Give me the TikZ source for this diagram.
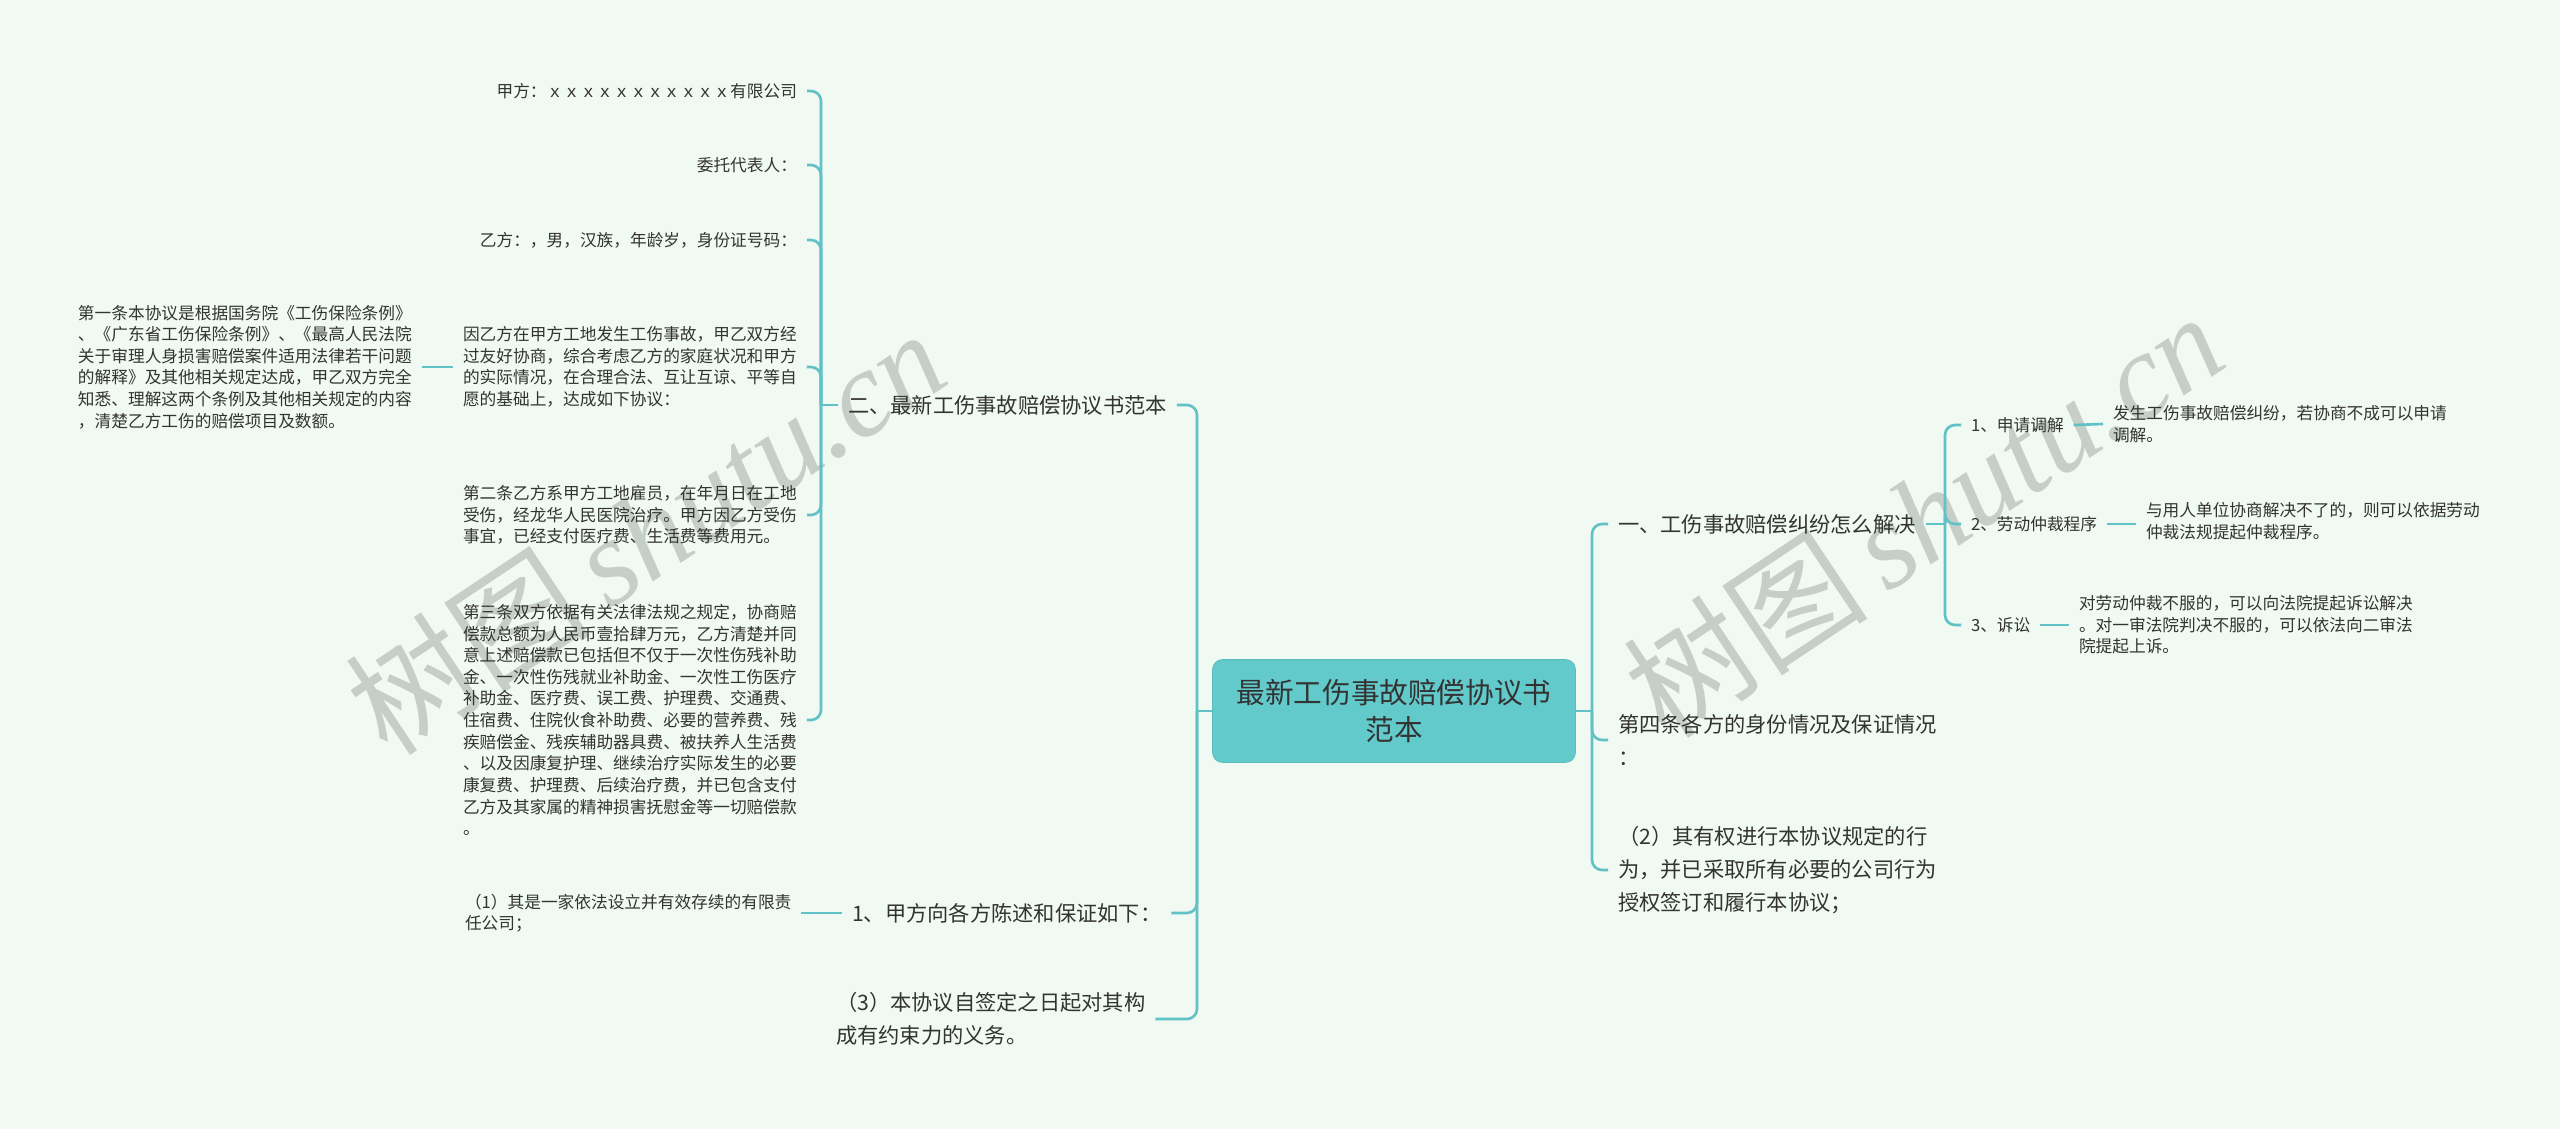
\documentclass[tikz,border=0pt]{standalone}
\usepackage{fontspec}
\setmainfont{Noto Sans CJK SC}
\newfontfamily\wmlatin{Liberation Serif}
\usetikzlibrary{positioning,calc}
\definecolor{bgc}{RGB}{240,249,242}
\definecolor{linec}{RGB}{96,193,199}
\definecolor{rootc}{RGB}{99,202,204}
\definecolor{textc}{RGB}{51,51,51}
\definecolor{wmc}{RGB}{198,206,200}

\begin{document}
\begin{tikzpicture}[x=0.02cm, y=-0.02cm,
    small/.style={font=\fontsize{9.5}{12.3}\selectfont, text=textc, inner sep=0pt, outer xsep=0.2cm, align=left},
    major/.style={font=\fontsize{12.1}{19}\selectfont, text=textc, inner sep=0pt, outer xsep=0.2cm, align=left},
    root/.style={rectangle, rounded corners=0.2cm, fill=rootc, draw=rootc!92!black, minimum width=7.26cm, minimum height=2.06cm, align=center, font=\fontsize{16.3}{21.3}\selectfont, text=textc},
    link/.style={draw=linec, line width=1.5pt, rounded corners=0.2cm},
    wmark/.style={text=wmc, rotate=33.7, inner sep=0pt, font=\fontsize{70}{70}\selectfont}]
    \useasboundingbox (0,0) rectangle (2560,1129);
    \fill[bgc] (0,0) rectangle (2560,1129);

    % watermarks
    \node[wmark] (wm1) at (645,531) {树图\,{\wmlatin\itshape shutu.cn}};
    \node[wmark] (wm2) at (1923,514) {树图\,{\wmlatin\itshape shutu.cn}};

    % centre
    \node[root] (root) at (1394,711) {最新工伤事故赔偿协议书\\范本};

    % left side
    \node[major, anchor=west] (er) at (838,405) {二、最新工伤事故赔偿协议书范本};
    \node[major, anchor=west] (yijia) at (842,913) {1、甲方向各方陈述和保证如下：};
    \node[major, anchor=west] (san) at (826,1019) {（3）本协议自签定之日起对其构\\成有约束力的义务。};

    \node[small, anchor=east] (jia) at (807,91) {甲方：ｘｘｘｘｘｘｘｘｘｘｘ有限公司};
    \node[small, anchor=east] (weituo) at (807,165) {委托代表人：};
    \node[small, anchor=east] (yifang) at (807,240) {乙方：，男，汉族，年龄岁，身份证号码：};
    \node[small, anchor=west] (yin) at (453,367) {因乙方在甲方工地发生工伤事故，甲乙双方经\\过友好协商，综合考虑乙方的家庭状况和甲方\\的实际情况，在合理合法、互让互谅、平等自\\愿的基础上，达成如下协议：};
    \node[small, anchor=west] (diyi) at (68,367) {第一条本协议是根据国务院《工伤保险条例》\\、《广东省工伤保险条例》、《最高人民法院\\关于审理人身损害赔偿案件适用法律若干问题\\的解释》及其他相关规定达成，甲乙双方完全\\知悉、理解这两个条例及其他相关规定的内容\\，清楚乙方工伤的赔偿项目及数额。};
    \node[small, anchor=west] (dier) at (453,515) {第二条乙方系甲方工地雇员，在年月日在工地\\受伤，经龙华人民医院治疗。甲方因乙方受伤\\事宜，已经支付医疗费、生活费等费用元。};
    \node[small, anchor=west] (disan) at (453,720) {第三条双方依据有关法律法规之规定，协商赔\\偿款总额为人民币壹拾肆万元，乙方清楚并同\\意上述赔偿款已包括但不仅于一次性伤残补助\\金、一次性伤残就业补助金、一次性工伤医疗\\补助金、医疗费、误工费、护理费、交通费、\\住宿费、住院伙食补助费、必要的营养费、残\\疾赔偿金、残疾辅助器具费、被扶养人生活费\\、以及因康复护理、继续治疗实际发生的必要\\康复费、护理费、后续治疗费，并已包含支付\\乙方及其家属的精神损害抚慰金等一切赔偿款\\。};
    \node[small, anchor=west] (p1) at (455,913) {（1）其是一家依法设立并有效存续的有限责\\任公司；};

    % right side
    \node[major, anchor=west] (yi1) at (1608,524) {一、工伤事故赔偿纠纷怎么解决};
    \node[major, anchor=west] (disi) at (1608,740) {第四条各方的身份情况及保证情况\\：};
    \node[major, anchor=west] (p2) at (1608,870) {（2）其有权进行本协议规定的行\\为，并已采取所有必要的公司行为\\授权签订和履行本协议；};

    \node[small, anchor=west] (s1) at (1961,425) {1、申请调解};
    \node[small, anchor=west] (s2) at (1961,524) {2、劳动仲裁程序};
    \node[small, anchor=west] (s3) at (1961,625) {3、诉讼};
    \node[small, anchor=west] (d1) at (2103,424) {发生工伤事故赔偿纠纷，若协商不成可以申请\\调解。};
    \node[small, anchor=west] (d2) at (2136,521) {与用人单位协商解决不了的，则可以依据劳动\\仲裁法规提起仲裁程序。};
    \node[small, anchor=west] (d3) at (2069,625) {对劳动仲裁不服的，可以向法院提起诉讼解决\\。对一审法院判决不服的，可以依法向二审法\\院提起上诉。};

    \coordinate (jL) at (1197,711);
    \coordinate (jE) at (821,405);
    \coordinate (jR) at (1592,711);
    \coordinate (jA) at (1945,524);

    \draw[link] (root.west) -- (jL);
    \foreach \n in {er,yijia,san}
        \draw[link] (jL) |- (\n.east);
    \draw[link] (er.west) -- (jE);
    \foreach \n in {jia,weituo,yifang,yin,dier,disan}
        \draw[link] (jE) |- (\n.east);
    \draw[link] (diyi.east) -- (yin.west);
    \draw[link] (p1.east) -- (yijia.west);

    \draw[link] (root.east) -- (jR);
    \foreach \n in {yi1,disi,p2}
        \draw[link] (jR) |- (\n.west);
    \draw[link] (yi1.east) -- (jA);
    \foreach \n in {s1,s2,s3}
        \draw[link] (jA) |- (\n.west);
    \draw[link] (s1.east) -- (d1.west);
    \draw[link] (s2.east) -- (d2.west |- s2.east);
    \draw[link] (s3.east) -- (d3.west);
\end{tikzpicture}
\end{document}
